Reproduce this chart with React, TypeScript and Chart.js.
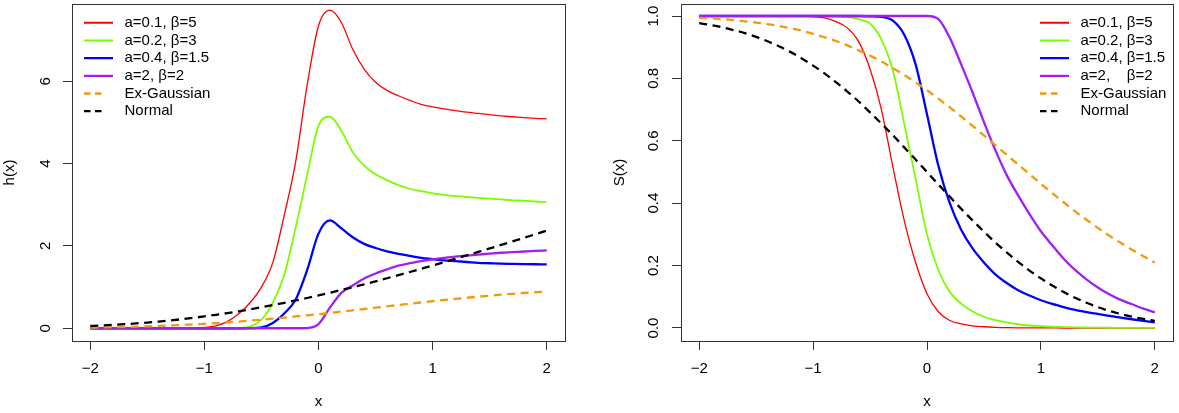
import React, { useEffect, useRef } from "react";
import { Chart, registerables } from "chart.js";

Chart.register(...registerables);

// ---------------- data ----------------
const xValues = [
  -2.0, -1.9, -1.8, -1.7, -1.6, -1.5, -1.4, -1.3, -1.2, -1.1,
  -1.0, -0.9, -0.8, -0.7, -0.6, -0.5, -0.4, -0.3, -0.2, -0.1,
  0.0, 0.1, 0.2, 0.3, 0.4, 0.5, 0.6, 0.7, 0.8, 0.9,
  1.0, 1.1, 1.2, 1.3, 1.4, 1.5, 1.6, 1.7, 1.8, 1.9, 2.0,
];

const xTicks = [-2, -1, 0, 1, 2];
const hTicks = [0, 2, 4, 6];
const sTicks = [0, 0.2, 0.4, 0.6, 0.8, 1.0];

const labelsLeft = ["a=0.1, \u03b2=5", "a=0.2, \u03b2=3", "a=0.4, \u03b2=1.5", "a=2, \u03b2=2", "Ex-Gaussian", "Normal"];
const labelsRight = ["a=0.1, \u03b2=5", "a=0.2, \u03b2=3", "a=0.4, \u03b2=1.5", "a=2,    \u03b2=2", "Ex-Gaussian", "Normal"];

// hazard h(x)
const hRed = [
  0, 0, 0, 0, 0, 0, 0, 0,
  0.003, 0.008, 0.02, 0.06, 0.16, 0.35, 0.62, 1.00, 1.60, 2.75,
  4.05, 5.90, 7.35, 7.73, 7.43, 6.78, 6.30, 5.98, 5.78, 5.65,
  5.54, 5.44, 5.38, 5.33, 5.29, 5.25, 5.22, 5.19, 5.16, 5.14, 5.12, 5.10, 5.09,
];
const hGreen = [
  0, 0, 0, 0, 0, 0, 0, 0, 0, 0, 0, 0, 0,
  0.005, 0.04, 0.21, 0.62, 1.30, 2.45, 3.72, 4.92, 5.14, 4.80,
  4.28, 3.95, 3.74, 3.60, 3.48, 3.39, 3.33, 3.28, 3.24, 3.21,
  3.19, 3.17, 3.15, 3.13, 3.11, 3.10, 3.08, 3.07,
];
const hBlue = [
  0, 0, 0, 0, 0, 0, 0, 0, 0, 0, 0, 0, 0, 0,
  0.003, 0.02, 0.13, 0.36, 0.70, 1.41, 2.30, 2.62, 2.43, 2.21,
  2.05, 1.95, 1.87, 1.81, 1.76, 1.71, 1.68, 1.65, 1.63, 1.61,
  1.59, 1.58, 1.57, 1.565, 1.56, 1.555, 1.55,
];
const hPurple = [
  0, 0, 0, 0, 0, 0, 0, 0, 0, 0, 0, 0, 0, 0, 0, 0, 0, 0, 0,
  0.005, 0.10, 0.50, 0.86, 1.04, 1.21, 1.33, 1.43, 1.52, 1.58, 1.63,
  1.675, 1.71, 1.74, 1.765, 1.79, 1.815, 1.835, 1.85, 1.865, 1.88, 1.89,
];
const hExGauss = [
  0.017, 0.021, 0.026, 0.032, 0.039, 0.047, 0.056, 0.067, 0.079, 0.093,
  0.108, 0.125, 0.143, 0.163, 0.185, 0.208, 0.233, 0.259, 0.286, 0.314,
  0.343, 0.374, 0.405, 0.436, 0.468, 0.500, 0.532, 0.564, 0.595, 0.626,
  0.657, 0.686, 0.714, 0.741, 0.767, 0.792, 0.815, 0.837, 0.857, 0.875, 0.892,
];
const hNormal = [
  0.055, 0.068, 0.082, 0.098, 0.117, 0.139, 0.163, 0.190, 0.219, 0.252,
  0.288, 0.326, 0.368, 0.412, 0.459, 0.509, 0.562, 0.617, 0.675, 0.735,
  0.798, 0.863, 0.929, 0.998, 1.069, 1.141, 1.215, 1.291, 1.367, 1.446,
  1.525, 1.606, 1.688, 1.770, 1.854, 1.939, 2.024, 2.110, 2.197, 2.285, 2.373,
];

// survival S(x)
const sRed = [
  1, 1, 1, 1, 1, 1, 1, 1, 1, 1,
  0.998, 0.994, 0.982, 0.962, 0.918, 0.830, 0.700, 0.517, 0.345, 0.21,
  0.11, 0.052, 0.024, 0.013, 0.007, 0.004, 0.002, 0.001, 0.0005, 0.0003,
  0.0002, 0.0001, 0, 0, 0, 0, 0, 0, 0, 0, 0,
];
const sGreen = [
  1, 1, 1, 1, 1, 1, 1, 1, 1, 1,
  1, 1, 0.999, 0.997, 0.99, 0.976, 0.925, 0.825, 0.655, 0.478,
  0.30, 0.185, 0.115, 0.078, 0.053, 0.036, 0.025, 0.018, 0.012, 0.008,
  0.006, 0.004, 0.003, 0.002, 0.0015, 0.001, 0.0008, 0.0005, 0.0003, 0.0002, 0.0001,
];
const sBlue = [
  1, 1, 1, 1, 1, 1, 1, 1, 1, 1,
  1, 1, 1, 1, 1, 0.999, 0.997, 0.985, 0.94, 0.845,
  0.685, 0.52, 0.40, 0.315, 0.255, 0.21, 0.172, 0.144, 0.121, 0.104,
  0.089, 0.077, 0.067, 0.058, 0.051, 0.045, 0.039, 0.033, 0.028, 0.023, 0.018,
];
const sPurple = [
  1, 1, 1, 1, 1, 1, 1, 1, 1, 1,
  1, 1, 1, 1, 1, 1, 1, 1, 1, 1,
  1.0, 0.99, 0.93, 0.845, 0.755, 0.66, 0.57, 0.49, 0.425, 0.365,
  0.31, 0.265, 0.222, 0.186, 0.156, 0.13, 0.108, 0.09, 0.076, 0.062, 0.05,
];
const sExGauss = [
  0.994, 0.992, 0.990, 0.987, 0.983, 0.979, 0.974, 0.968, 0.961, 0.953,
  0.943, 0.932, 0.920, 0.906, 0.890, 0.873, 0.854, 0.833, 0.811, 0.787,
  0.762, 0.735, 0.707, 0.678, 0.648, 0.617, 0.586, 0.555, 0.524, 0.493,
  0.462, 0.432, 0.403, 0.374, 0.347, 0.321, 0.296, 0.273, 0.251, 0.230, 0.210,
];
const sNormal = [
  0.977, 0.971, 0.964, 0.955, 0.945, 0.933, 0.919, 0.903, 0.885, 0.864,
  0.841, 0.816, 0.788, 0.758, 0.726, 0.691, 0.655, 0.618, 0.579, 0.540,
  0.500, 0.460, 0.421, 0.382, 0.345, 0.309, 0.274, 0.242, 0.212, 0.184,
  0.159, 0.136, 0.115, 0.097, 0.081, 0.067, 0.055, 0.045, 0.036, 0.029, 0.023,
];

// ---------------- styles ----------------
const seriesColors = ["#ff0000", "#7cfc00", "#0000ff", "#a020f0", "#f39a0c", "#000000"];
const seriesWidths = [1.3, 1.8, 2.3, 2.3, 2.3, 2.3];
const seriesDashed = [false, false, false, false, true, true];
const DASH = [8, 5.5];
const LEGEND_SOLID = [29, 60];
const LEGEND_DASH = [6.5, 4.5, 6.5, 60];
const FONT = "'Liberation Sans', Arial, Helvetica, sans-serif";
const AXIS_COLOR = "#333";
const W = 1179;
const H = 413;
const LEFT_W = 590;

const fmtX = (v: number) => (v < 0 ? "\u2212" + Math.abs(v) : String(v));

type PanelSpec = {
  series: number[][];
  labels: string[];
  yMin: number;
  yMax: number;
  yTicks: number[];
  yFmt: (v: number) => string;
  yTitle: string;
  yTitlePad: number;
  yAxisWidth: number;
  yTickPad: number;
  padRight: number;
  legendX: number;
  legendY: number;
};

const LEG_PAD = 2.7;

const zeroPad = (s: any) => {
  s.paddingTop = 0;
  s.paddingBottom = 0;
  s.paddingLeft = 0;
  s.paddingRight = 0;
};

function buildConfig(p: PanelSpec): any {
  const datasets = p.series.map((vals, i) => ({
    label: p.labels[i],
    data: xValues.map((x, j) => ({ x, y: vals[j] })),
    borderColor: seriesColors[i],
    backgroundColor: seriesColors[i],
    borderWidth: seriesWidths[i],
    borderDash: seriesDashed[i] ? DASH : [],
    pointRadius: 0,
    pointHoverRadius: 0,
    fill: false,
    cubicInterpolationMode: "monotone",
    order: p.series.length - i,
  }));

  const boxPlugin = {
    id: "rbox",
    afterDraw(chart: any) {
      const { ctx, chartArea: a } = chart;
      ctx.save();
      ctx.strokeStyle = AXIS_COLOR;
      ctx.lineWidth = 1;
      ctx.setLineDash([]);
      const l = Math.round(a.left) + 0.5;
      const t = Math.round(a.top) + 0.5;
      const r = Math.round(a.right) + 0.5;
      const b = Math.round(a.bottom) + 0.5;
      ctx.strokeRect(l, t, r - l, b - t);
      ctx.restore();
    },
  };

  const legendPos = {
    id: "legendPos",
    afterUpdate(chart: any) {
      const lg = chart.legend;
      if (!lg) return;
      const lx = p.legendX - LEG_PAD;
      const ly = p.legendY - LEG_PAD;
      lg.left = lx;
      lg.top = ly;
      lg.width = 240;
      lg.height = 150;
      lg.right = lx + 240;
      lg.bottom = ly + 150;
    },
  };

  const tickFont = { family: FONT, size: 15 };
  const gridOpts = {
    display: true,
    drawOnChartArea: false,
    drawTicks: true,
    tickLength: 9,
    color: AXIS_COLOR,
    lineWidth: 1,
  };

  return {
    type: "line",
    data: { datasets },
    plugins: [boxPlugin, legendPos],
    options: {
      animation: false,
      responsive: false,
      events: [],
      layout: { padding: { left: 0, top: 4, right: p.padRight, bottom: 0 } },
      scales: {
        x: {
          type: "linear",
          min: -2.16,
          max: 2.16,
          afterBuildTicks: (s: any) => {
            s.ticks = xTicks.map((v) => ({ value: v }));
          },
          afterFit: (s: any) => {
            s.height = H - 341;
            zeroPad(s);
          },
          ticks: {
            font: tickFont,
            color: "#000",
            padding: 10,
            minRotation: 0,
            maxRotation: 0,
            autoSkip: false,
            callback: (v: any) => fmtX(Number(v)),
          },
          grid: gridOpts,
          border: { display: false },
          title: {
            display: true,
            text: "x",
            font: tickFont,
            color: "#000",
            padding: { top: 0, bottom: 2 },
          },
        },
        y: {
          type: "linear",
          min: p.yMin,
          max: p.yMax,
          afterBuildTicks: (s: any) => {
            s.ticks = p.yTicks.map((v) => ({ value: v }));
          },
          afterFit: (s: any) => {
            s.width = p.yAxisWidth;
            zeroPad(s);
          },
          ticks: {
            font: tickFont,
            color: "#000",
            padding: p.yTickPad,
            minRotation: 90,
            maxRotation: 90,
            crossAlign: "center",
            autoSkip: false,
            callback: (v: any) => p.yFmt(Number(v)),
          },
          grid: gridOpts,
          border: { display: false },
          title: {
            display: true,
            text: p.yTitle,
            font: tickFont,
            color: "#000",
            padding: { top: p.yTitlePad, bottom: 0 },
          },
        },
      },
      plugins: {
        tooltip: { enabled: false },
        legend: {
          display: true,
          position: "chartArea",
          align: "start",
          labels: {
            usePointStyle: true,
            pointStyle: "line",
            pointStyleWidth: 33,
            font: { family: FONT, size: 15 },
            color: "#000",
            padding: LEG_PAD,
            sort: (a: any, b: any) => a.datasetIndex - b.datasetIndex,
            generateLabels: (chart: any) => {
              const base = (Chart.defaults as any).plugins.legend.labels.generateLabels(chart);
              return base.map((it: any) => {
                const ds = chart.data.datasets[it.datasetIndex];
                const dashed = ds.borderDash && ds.borderDash.length > 0;
                return {
                  ...it,
                  strokeStyle: ds.borderColor,
                  lineWidth: ds.borderWidth < 2 ? 2 : ds.borderWidth,
                  lineDash: dashed ? LEGEND_DASH : LEGEND_SOLID,
                  lineDashOffset: 0,
                };
              });
            },
          },
        },
      },
    },
  };
}

const leftSpec: PanelSpec = {
  series: [hRed, hGreen, hBlue, hPurple, hExGauss, hNormal],
  labels: labelsLeft,
  yMin: -0.31,
  yMax: 7.88,
  yTicks: hTicks,
  yFmt: (v) => String(v),
  yTitle: "h(x)",
  yTitlePad: 1,
  yAxisWidth: 72,
  yTickPad: 13,
  padRight: LEFT_W - 565,
  legendX: 84,
  legendY: 15.2,
};

const rightSpec: PanelSpec = {
  series: [sRed, sGreen, sBlue, sPurple, sExGauss, sNormal],
  labels: labelsRight,
  yMin: -0.0417,
  yMax: 1.0385,
  yTicks: sTicks,
  yFmt: (v) => v.toFixed(1),
  yTitle: "S(x)",
  yTitlePad: 21,
  yAxisWidth: 91,
  yTickPad: 7.5,
  padRight: W - LEFT_W - 583,
  legendX: 450,
  legendY: 15.2,
};

function Panel({ spec, left, width }: { spec: PanelSpec; left: number; width: number }) {
  const ref = useRef<HTMLCanvasElement>(null);
  useEffect(() => {
    if (!ref.current) return;
    const chart = new Chart(ref.current, buildConfig(spec));
    return () => chart.destroy();
  }, []);
  return (
    <div style={{ position: "absolute", left, top: 0, width, height: H }}>
      <canvas ref={ref} width={width} height={H} style={{ width, height: H, display: "block" }} />
    </div>
  );
}

export default function App() {
  return (
    <div
      style={{
        position: "fixed",
        left: 0,
        top: 0,
        width: W,
        height: H,
        background: "#fff",
        overflow: "hidden",
      }}
    >
      <Panel spec={leftSpec} left={0} width={LEFT_W} />
      <Panel spec={rightSpec} left={LEFT_W} width={W - LEFT_W} />
    </div>
  );
}
